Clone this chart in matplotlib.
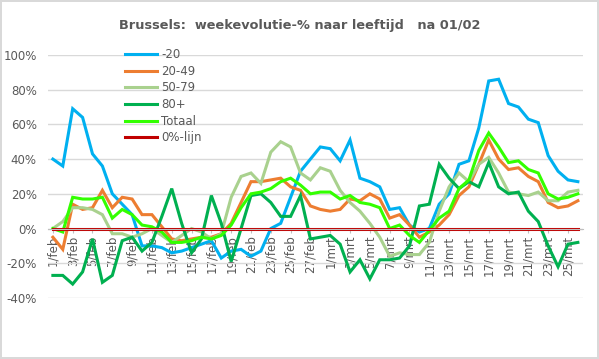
import matplotlib
matplotlib.use("Agg")
import matplotlib.pyplot as plt

# categorieen: 1/feb t/m 26/mrt
dagen = [f"{d}/feb" for d in range(1, 29)] + [f"{d}/mrt" for d in range(1, 27)]

# weekevolutie in %
min20 = [40, 36, 69, 64, 43, 36, 20, 14, 8, -10, -10, -11, -14, -13, -11, -9, -7, -17, -13, -12,
         -16, -13, 0, 3, 18, 33, 40, 47, 46, 39, 51, 29, 27, 24, 11, 12, 2, -2, 0, 14,
         20, 37, 39, 58, 85, 86, 72, 70, 63, 61, 42, 33, 28, 27]
l20_49 = [-5, -12, 14, 11, 12, 22, 12, 18, 17, 8, 8, 1, -6, -7, -6, -5, -5, -3, 3, 15,
          27, 27, 28, 29, 24, 22, 13, 11, 10, 11, 17, 16, 20, 17, 6, 8, 2, -5, -2, 2,
          8, 19, 24, 37, 51, 40, 34, 35, 30, 27, 15, 12, 13, 16]
l50_79 = [0, 4, 12, 12, 11, 8, -3, -3, -5, -3, 0, -4, -8, -4, 0, -2, -6, -3, 18, 30,
          32, 26, 44, 50, 47, 32, 28, 35, 33, 22, 15, 10, 3, -5, -16, -14, -15, -15, -8, 10,
          24, 32, 27, 37, 41, 32, 21, 20, 19, 21, 16, 16, 21, 22]
l80 = [-27, -27, -32, -25, -6, -31, -27, -7, -5, -13, -8, 7, 23, 3, -14, -6, 19, 3, -19, 0,
       19, 20, 15, 7, 7, 19, -6, -5, -4, -9, -25, -18, -29, -18, -18, -17, -10, 13, 14, 37,
       29, 23, 27, 24, 38, 24, 20, 21, 10, 4, -10, -22, -9, -8]
totaal = [0, -2, 18, 17, 17, 18, 6, 11, 8, 2, 1, -2, -8, -8, -7, -5, -6, -4, 2, 12,
          20, 21, 23, 27, 29, 25, 20, 21, 21, 17, 19, 15, 14, 12, 0, 2, -4, -8, -1, 6,
          10, 23, 28, 45, 55, 47, 38, 39, 34, 32, 20, 17, 18, 20]
nul = [0] * len(dagen)

reeksen = ["-20", "20-49", "50-79", "80+", "Totaal", "0%-lijn"]
kleuren = ["#00B0F0", "#ED7D31", "#A9D18E", "#00B050", "#33FF00", "#C00000"]

grijs = "#595959"

fig = plt.figure(figsize=(5.99, 3.59), dpi=100)
fig.patch.set_edgecolor("#D9D9D9")
fig.patch.set_linewidth(1.5)
ax = fig.add_axes([0.080, 0.170, 0.893, 0.677])

x = list(range(len(dagen)))
for waarden, naam, kleur in zip([min20, l20_49, l50_79, l80, totaal, nul], reeksen, kleuren):
    ax.plot(x, waarden, color=kleur, lw=2.2, label=naam, solid_joinstyle="miter")

# x-as op de 0%-lijn (eerst, want dit zet de ticks terug)
ax.spines["bottom"].set_position(("data", 0))
ax.spines["bottom"].set_color("#BFBFBF")
for s in ["top", "right", "left"]:
    ax.spines[s].set_visible(False)

ax.set_xlim(-0.5, len(dagen) - 0.5)
ax.set_ylim(-40, 100)
ax.set_yticks(range(-40, 101, 20))
ax.set_yticklabels([f"{v}%" for v in range(-40, 101, 20)])
ax.grid(axis="y", color="#D9D9D9", lw=1)
ax.set_axisbelow(True)

ax.set_xticks(x[::2])
ax.set_xticklabels(dagen[::2])
ax.tick_params(axis="y", length=0, pad=8, labelsize=8.5, labelcolor=grijs)
ax.tick_params(axis="x", length=3, color="#BFBFBF", pad=2, labelsize=8.5, labelcolor=grijs,
               labelrotation=90)

fig.text(0.5, 0.93, "Brussels:  weekevolutie-% naar leeftijd   na 01/02",
         ha="center", va="center", fontsize=9.3, fontweight="bold", color=grijs)

fig.legend(loc="upper left", bbox_to_anchor=(125 / 599, 1 - 48 / 359), frameon=False,
           fontsize=8.5, handlelength=2.7, handletextpad=0.35, labelspacing=0.31,
           borderaxespad=0, borderpad=0, labelcolor=grijs)

fig.savefig("out.png", dpi=100)
